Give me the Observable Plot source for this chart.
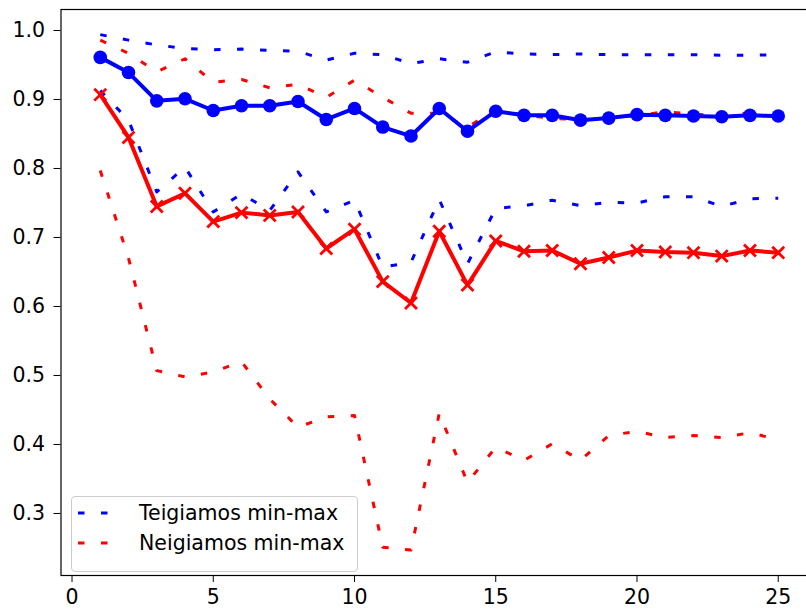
<!DOCTYPE html>
<html><head><meta charset="utf-8">
<script src="https://cdn.jsdelivr.net/npm/d3@7"></script>
<script src="https://cdn.jsdelivr.net/npm/@observablehq/plot@0.6"></script>
<style>
html,body{margin:0;padding:0;background:#fff;overflow:hidden;width:806px;height:610px;}
#wrap{position:relative;width:806px;height:610px;overflow:hidden;}
#chart{width:817px;}
#legend{position:absolute;left:71px;top:496px;width:287px;height:76px;box-sizing:border-box;border:1px solid #cccccc;border-radius:4px;background:rgba(255,255,255,0.8);font-family:"DejaVu Sans";font-size:20.5px;color:#000;}
.row{position:absolute;left:6px;height:26px;display:flex;align-items:center;white-space:nowrap;}
.row svg{width:41px;height:6px;margin-right:20px;flex:none;}
</style></head>
<body><div id="wrap"><div id="chart"></div><div id="legend"></div></div>
<script>
const xs = [1,2,3,4,5,6,7,8,9,10,11,12,13,14,15,16,17,18,19,20,21,22,23,24,25];
const posMean = [0.961,0.939,0.898,0.901,0.884,0.891,0.891,0.897,0.871,0.887,0.860,0.847,0.887,0.854,0.883,0.877,0.877,0.870,0.873,0.878,0.877,0.876,0.875,0.877,0.876];
const negMean = [0.907,0.845,0.745,0.764,0.723,0.736,0.732,0.737,0.684,0.712,0.636,0.605,0.709,0.631,0.695,0.680,0.681,0.662,0.671,0.681,0.679,0.678,0.673,0.681,0.678];
const posMax = [0.994,0.986,0.979,0.974,0.972,0.973,0.971,0.970,0.957,0.967,0.965,0.952,0.959,0.954,0.969,0.966,0.965,0.966,0.965,0.965,0.965,0.965,0.964,0.964,0.965];
const posMin = [0.913,0.870,0.766,0.802,0.737,0.763,0.739,0.795,0.737,0.754,0.657,0.664,0.755,0.662,0.742,0.746,0.754,0.746,0.751,0.750,0.759,0.759,0.745,0.756,0.757];
const negMax = [0.986,0.967,0.940,0.959,0.925,0.929,0.917,0.922,0.903,0.928,0.903,0.880,0.880,0.860,0.885,0.877,0.873,0.870,0.872,0.877,0.882,0.879,0.876,0.881,0.874];
const negMin = [0.797,0.670,0.507,0.498,0.505,0.520,0.466,0.425,0.440,0.442,0.251,0.247,0.445,0.345,0.396,0.377,0.401,0.377,0.413,0.419,0.410,0.413,0.410,0.417,0.407];
const xTicks = [0,5,10,15,20,25];
const yTicks = [0.3,0.4,0.5,0.6,0.7,0.8,0.9,1.0];
const legendLabels = ["Teigiamos min-max","Neigiamos min-max"];
const blue = "#0000ff", red = "#ff0000";
const dash = "6.5,16.5";

const rows = xs.map((x,i)=>({x, posMean:posMean[i], negMean:negMean[i], posMax:posMax[i], posMin:posMin[i], negMax:negMax[i], negMin:negMin[i]}));

const dotted = (key, color) => Plot.line(rows, {x: "x", y: key, stroke: color, strokeWidth: 3, strokeDasharray: dash, strokeLinecap: "butt", strokeLinejoin: "round"});

const chart = Plot.plot({
  width: 817, height: 610,
  marginLeft: 60.5, marginRight: 0, marginTop: 9, marginBottom: 35,
  style: {fontFamily: "DejaVu Sans", fontSize: "20.5px", color: "#000", background: "transparent", maxWidth: "none", overflow: "visible"},
  x: {domain: [-0.39, 26.39], ticks: xTicks, tickFormat: d3.format("d"), label: null, tickSize: 7, tickPadding: 7},
  y: {domain: [0.2101, 1.0304], ticks: yTicks, tickFormat: d3.format(".1f"), label: null, tickSize: 7, tickPadding: 9},
  marks: [
    dotted("posMax", blue),
    dotted("posMin", blue),
    dotted("negMax", red),
    dotted("negMin", red),
    Plot.line(rows, {x: "x", y: "negMean", stroke: red, strokeWidth: 4}),
    Plot.dot(rows, {x: "x", y: "negMean", symbol: "times", r: 5.5, stroke: red, strokeWidth: 2.8}),
    Plot.line(rows, {x: "x", y: "posMean", stroke: blue, strokeWidth: 4}),
    Plot.dot(rows, {x: "x", y: "posMean", r: 6.8, fill: blue, stroke: "none"}),
    Plot.frame({stroke: "#000", strokeWidth: 1.2})
  ]
});
document.getElementById("chart").appendChild(chart);

const legend = document.getElementById("legend");
const colors = [blue, red];
const tops = [3, 33];
legendLabels.forEach((lab, i) => {
  const row = document.createElement("div");
  row.className = "row";
  row.style.top = tops[i] + "px";
  row.innerHTML = `<svg viewBox="0 0 41 6"><line x1="0" y1="3" x2="41" y2="3" stroke="${colors[i]}" stroke-width="3" stroke-linecap="butt" stroke-dasharray="${dash}"/></svg><span>${lab}</span>`;
  legend.appendChild(row);
});
</script>
</body></html>
